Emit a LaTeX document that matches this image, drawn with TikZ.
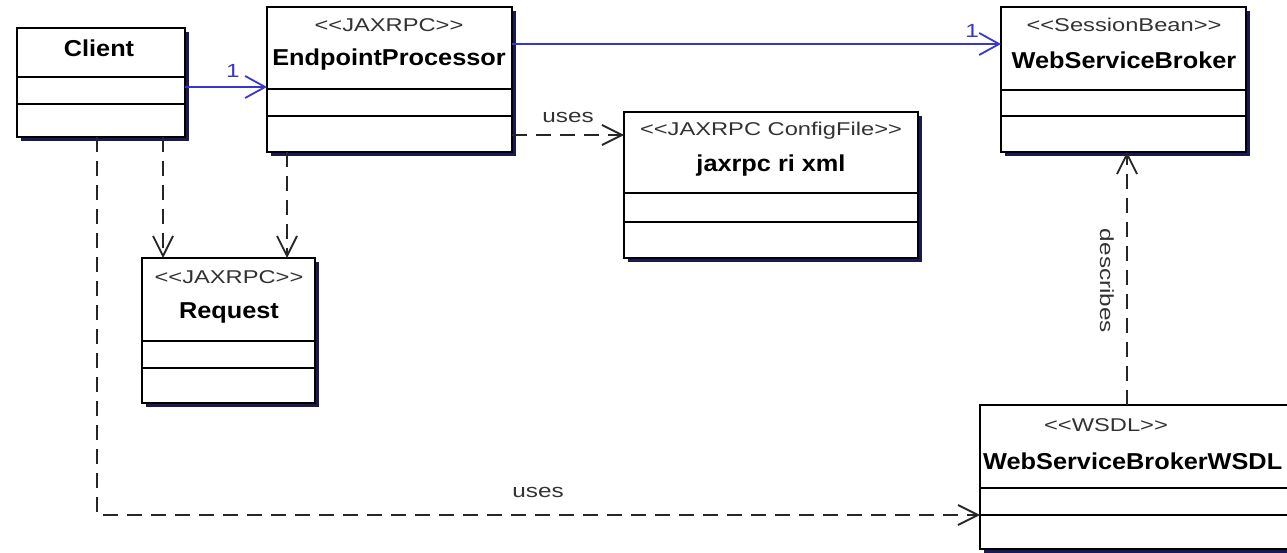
\documentclass[tikz,border=0pt]{standalone}
\usepackage{fontspec}
\setmainfont{Liberation Sans}
\newfontfamily\stereofont[FakeStretch=1.28]{Liberation Sans}
\newfontfamily\namefont[FakeStretch=1.1]{Liberation Sans}
\usetikzlibrary{arrows.meta,shadows}
\definecolor{navy}{RGB}{26,26,80}
\definecolor{assocblue}{RGB}{55,55,205}
\definecolor{stereogray}{RGB}{50,50,50}
\tikzset{
  umlbox/.style={draw=black, line width=1.8pt, fill=white, inner sep=0pt, outer sep=0pt, anchor=north west,
    drop shadow={shadow xshift=4pt, shadow yshift=-4pt, fill=navy, opacity=1}},
  sep/.style={draw=black, line width=1.5pt},
  stereo/.style={font=\stereofont\fontsize{18.5}{20}\selectfont, text=stereogray, inner sep=0pt},
  cname/.style={font=\namefont\bfseries\fontsize{23}{25}\selectfont, text=black, inner sep=0pt},
  lbl/.style={font=\stereofont\fontsize{19}{21}\selectfont, text=stereogray, inner sep=0pt},
  mult/.style={font=\stereofont\fontsize{19}{21}\selectfont, text=assocblue, inner sep=0pt},
  assoc/.style={draw=assocblue, line width=1.8pt, -{Straight Barb[length=20pt,width=22pt,line width=1.8pt]}},
  dep/.style={draw=black!85, line width=1.9pt, dash pattern=on 15pt off 9pt, -{Straight Barb[length=20pt,width=20pt,line width=1.8pt]}},
}
\begin{document}
\begin{tikzpicture}[x=1pt,y=-1pt]
\useasboundingbox (0,0) rectangle (1287,553);

% boxes
\node[umlbox, minimum width=168pt, minimum height=109pt] (client) at (17,28) {};
\node[umlbox, minimum width=245pt, minimum height=145pt] (ep) at (267,7) {};
\node[umlbox, minimum width=245pt, minimum height=145pt] (wsb) at (1001,7) {};
\node[umlbox, minimum width=294pt, minimum height=146pt] (cfg) at (624,112) {};
\node[umlbox, minimum width=173pt, minimum height=145pt] (req) at (142,258) {};
\node[umlbox, minimum width=330pt, minimum height=144pt] (wsdl) at (980,405) {};

% separators
\draw[sep] (client.west |- 0,77) -- (client.east |- 0,77);
\draw[sep] (client.west |- 0,104) -- (client.east |- 0,104);
\draw[sep] (ep.west |- 0,89) -- (ep.east |- 0,89);
\draw[sep] (ep.west |- 0,116) -- (ep.east |- 0,116);
\draw[sep] (wsb.west |- 0,90) -- (wsb.east |- 0,90);
\draw[sep] (wsb.west |- 0,116) -- (wsb.east |- 0,116);
\draw[sep] (cfg.west |- 0,193) -- (cfg.east |- 0,193);
\draw[sep] (cfg.west |- 0,222) -- (cfg.east |- 0,222);
\draw[sep] (req.west |- 0,341) -- (req.east |- 0,341);
\draw[sep] (req.west |- 0,368) -- (req.east |- 0,368);
\draw[sep] (wsdl.west |- 0,488) -- (wsdl.east |- 0,488);
\draw[sep] (wsdl.west |- 0,515) -- (wsdl.east |- 0,515);

% texts
\node[cname] (tclient) at (99,48) {Client};
\node[stereo] (sep1) at (389,25) {<<JAXRPC>>};
\node[cname] (tep) at (389,60) {EndpointProcessor};
\node[stereo] (swsb) at (1124,25) {<<SessionBean>>};
\node[cname] (twsb) at (1124,60) {WebServiceBroker};
\node[stereo] (scfg) at (771,131) {<<JAXRPC ConfigFile>>};
\node[cname] (tcfg) at (771,166) {jaxrpc ri xml};
\node[stereo] (sreq) at (229,277) {<<JAXRPC>>};
\node[cname] (treq) at (229,313) {Request};
\node[stereo] (swsdl) at (1106,425) {<<WSDL>>};
\node[cname, anchor=west] (twsdl) at (983,461) {WebServiceBrokerWSDL};

% connectors
\coordinate (c1) at (client.east |- 0,87);
\coordinate (e1) at (ep.west |- 0,87);
\draw[assoc] (c1) -- (e1);
\node[mult] (m1) at (233,71) {1};

\coordinate (e2) at (ep.east |- 0,44);
\coordinate (w2) at (wsb.west |- 0,44);
\draw[assoc] (e2) -- (w2);
\node[mult] (m2) at (972,31) {1};

\coordinate (e3) at (ep.east |- 0,135);
\coordinate (f3) at (cfg.west |- 0,135);
\draw[dep] (e3) -- (f3);
\node[lbl] (u1) at (568,117) {uses};

\coordinate (c4) at (client.south -| 163,0);
\coordinate (r4) at (req.north -| 163,0);
\draw[dep] (c4) -- (r4);

\coordinate (e5) at (ep.south -| 287,0);
\coordinate (r5) at (req.north -| 287,0);
\draw[dep] (e5) -- (r5);

\coordinate (c6) at (client.south -| 97,0);
\coordinate (d6) at (wsdl.west |- 0,515);
\draw[dep] (c6) |- (d6);
\node[lbl] (u2) at (538,492) {uses};

\coordinate (d7) at (wsdl.north -| 1127,0);
\coordinate (w7) at (wsb.south -| 1127,0);
\draw[dep] (d7) -- (w7);
\node[lbl, rotate=-90] (desc) at (1107,281) {describes};
\end{tikzpicture}
\end{document}
